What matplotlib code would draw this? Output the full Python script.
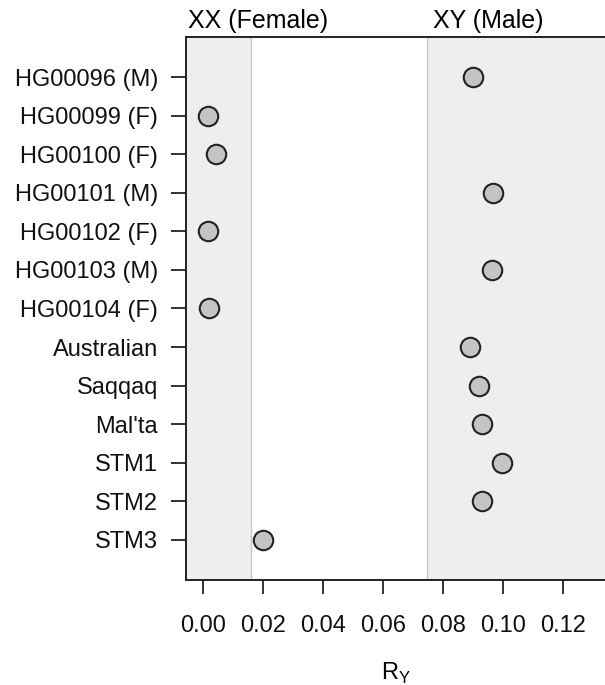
import matplotlib
matplotlib.use("Agg")
import matplotlib.pyplot as plt
import matplotlib.transforms as mtransforms

plt.rcParams['font.family'] = ['Liberation Sans', 'DejaVu Sans']
plt.rcParams['mathtext.fontset'] = 'custom'
plt.rcParams['mathtext.rm'] = 'Liberation Sans'

samples = ["HG00096 (M)", "HG00099 (F)", "HG00100 (F)", "HG00101 (M)", "HG00102 (F)",
           "HG00103 (M)", "HG00104 (F)", "Australian", "Saqqaq", "Mal'ta",
           "STM1", "STM2", "STM3"]
ry_values = [0.090, 0.0017, 0.0043, 0.0967, 0.0017, 0.0963, 0.0020,
             0.089, 0.092, 0.093, 0.0997, 0.093, 0.020]
xx_upper = 0.0159
xy_lower = 0.0746
xticks = [0.00, 0.02, 0.04, 0.06, 0.08, 0.10, 0.12]
xticklabels = ["0.00", "0.02", "0.04", "0.06", "0.08", "0.10", "0.12"]

fig = plt.figure(figsize=(6.05, 6.85), dpi=100)
ax = fig.add_axes([186/605, 1-580/685, 1-186/605, (580-37)/685])

xmin, xmax = -0.0057, 0.134
ax.set_xlim(xmin, xmax)
n = len(samples)
ax.set_ylim(n + 1.05, -0.05)

ax.axvspan(xmin, xx_upper, color='#eeeeee', zorder=0, lw=0)
ax.axvspan(xy_lower, xmax, color='#eeeeee', zorder=0, lw=0)
ax.axvline(xx_upper, color='#c8c8c8', lw=1, zorder=1)
ax.axvline(xy_lower, color='#c8c8c8', lw=1, zorder=1)

ypos = list(range(1, n + 1))
ax.scatter(ry_values, ypos, s=14**2, facecolor='#c4c4c4', edgecolor='#222222',
           linewidth=1.5, zorder=3)

ax.set_yticks(ypos)
ax.set_yticklabels(samples, fontsize=17)
ax.set_xticks(xticks)
ax.set_xticklabels(xticklabels, fontsize=17)
ax.tick_params(axis='x', direction='out', length=10, width=1.3, pad=15, colors='#222222')
ax.tick_params(axis='y', direction='out', length=11, width=1.3, pad=9, colors='#222222')
for lab in ax.get_xticklabels() + ax.get_yticklabels():
    lab.set_color('#111111')

ax.spines['right'].set_visible(False)
for s in ['left', 'top', 'bottom']:
    ax.spines[s].set_linewidth(1.4)
    ax.spines[s].set_color('#222222')

ax.set_xlabel(r'R$_\mathrm{Y}$', fontsize=17, labelpad=17)

trans = mtransforms.blended_transform_factory(ax.transData, ax.transAxes)
ax.text(0.0182, 1.008, "XX (Female)", transform=trans, ha='center', va='bottom', fontsize=18)
ax.text(0.095, 1.008, "XY (Male)", transform=trans, ha='center', va='bottom', fontsize=18)

fig.savefig("out.png", dpi=100)
